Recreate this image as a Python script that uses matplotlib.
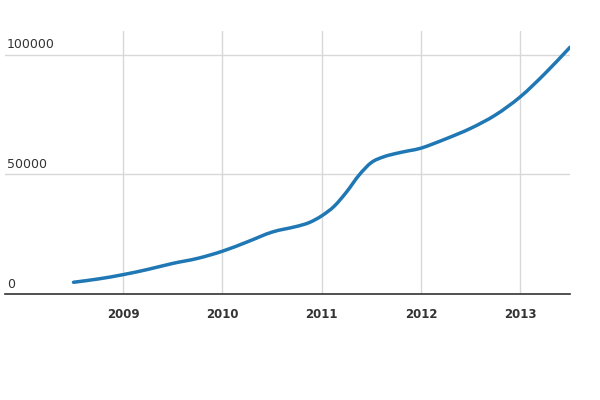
import matplotlib
matplotlib.use("Agg")
import matplotlib.pyplot as plt
import matplotlib.transforms as mtransforms
from matplotlib.path import Path
from matplotlib.patches import PathPatch

years = [2008.5, 2008.75, 2009.0, 2009.25, 2009.5, 2009.75, 2010.0, 2010.25, 2010.5,
         2010.75, 2010.875, 2011.0, 2011.125, 2011.25, 2011.375, 2011.5, 2011.625,
         2011.75, 2011.875, 2012.0, 2012.25, 2012.5, 2012.75, 2013.0, 2013.25, 2013.5]
values = [4900, 6300, 8100, 10300, 12800, 14900, 17900, 21800, 25900,
          28300, 29900, 32700, 36700, 42700, 49700, 55000, 57400,
          58800, 59900, 61000, 64900, 69300, 74900, 82500, 92300, 103200]

x_ticks = [2009, 2010, 2011, 2012, 2013]
x_labels = ["2009", "2010", "2011", "2012", "2013"]
y_ticks = [0, 50000, 100000]
y_labels = ["0", "50000", "100000"]

fig = plt.figure(figsize=(6, 4), dpi=100)
ax = fig.add_axes([5/600, 1 - 294/400, 565/600, (294 - 31)/400])

# smooth curve through the data points (cubic Hermite via Bezier segments)
n = len(years)
slopes = []
for i in range(n):
    if i == 0:
        s = (values[1] - values[0]) / (years[1] - years[0])
    elif i == n - 1:
        s = (values[-1] - values[-2]) / (years[-1] - years[-2])
    else:
        s = (values[i + 1] - values[i - 1]) / (years[i + 1] - years[i - 1])
    slopes.append(s)
verts = [(years[0], values[0])]
codes = [Path.MOVETO]
for i in range(n - 1):
    h = years[i + 1] - years[i]
    verts += [(years[i] + h / 3, values[i] + slopes[i] * h / 3),
              (years[i + 1] - h / 3, values[i + 1] - slopes[i + 1] * h / 3),
              (years[i + 1], values[i + 1])]
    codes += [Path.CURVE4] * 3
patch = PathPatch(Path(verts, codes), facecolor="none", edgecolor="#1f77b4",
                  linewidth=2.5, capstyle="round", zorder=3)
ax.add_patch(patch)

ax.set_xlim(2007.81, 2013.5)
ax.set_ylim(0, 110000)

ax.set_xticks(x_ticks)
ax.set_xticklabels(x_labels, fontsize=8.5, fontweight="bold", color="#333333")
ax.set_yticks(y_ticks)
ax.set_yticklabels([])
ax.tick_params(axis="both", length=0)
ax.tick_params(axis="x", pad=10)

ax.grid(True, color="#d8d8d8", linewidth=1)
ax.set_axisbelow(True)

for side in ["top", "right", "left"]:
    ax.spines[side].set_visible(False)
ax.spines["bottom"].set_color("#333333")
ax.spines["bottom"].set_linewidth(1.2)
ax.spines["bottom"].set_zorder(4)

trans = mtransforms.blended_transform_factory(ax.transAxes, ax.transData)
offset = mtransforms.ScaledTranslation(2/100, 3.5/100, fig.dpi_scale_trans)
for v, lab in zip(y_ticks, y_labels):
    ax.text(0, v, lab, transform=trans + offset, ha="left", va="bottom",
            fontsize=9, color="#333333")

fig.savefig("out.png", dpi=100)
